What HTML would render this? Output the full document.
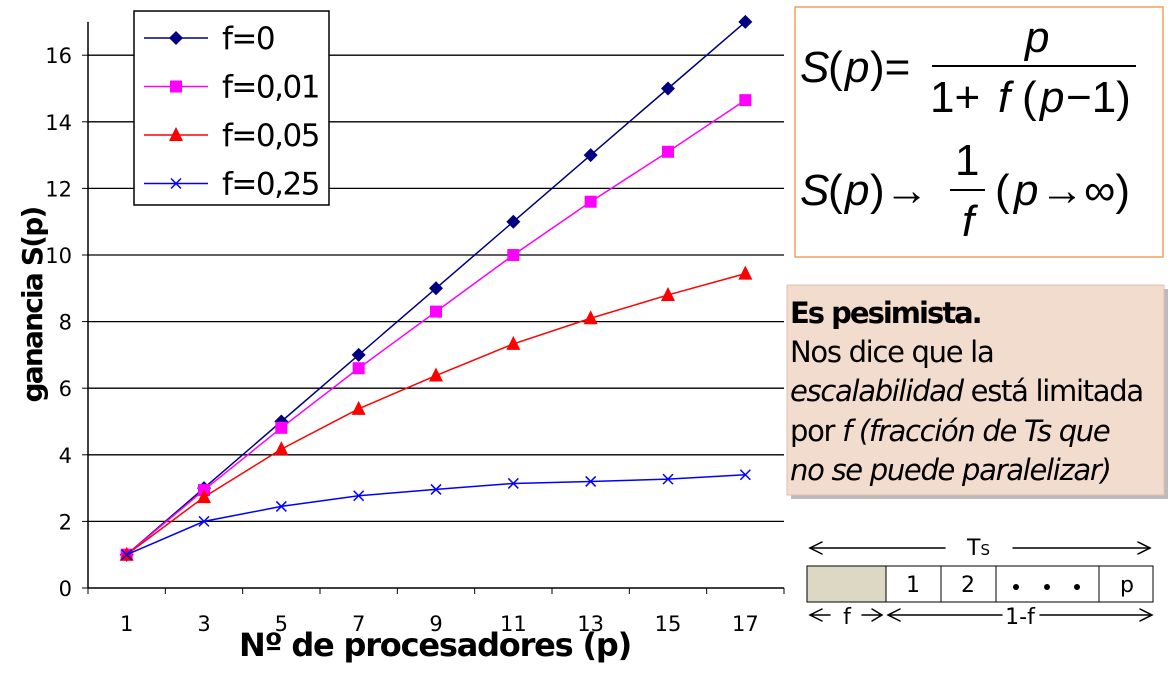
<!DOCTYPE html>
<html><head><meta charset="utf-8"><style>
body{margin:0;background:#fff;width:1171px;height:688px;overflow:hidden;font-family:"Liberation Sans","DejaVu Sans",sans-serif}
</style></head><body>
<svg id="chart" width="1171" height="688" xmlns="http://www.w3.org/2000/svg" font-family="DejaVu Sans, Liberation Sans, sans-serif">
<g id="grid"></g><g id="axes"></g><g id="series"></g>
<text transform="translate(42,305) rotate(-90)" text-anchor="middle" font-size="28" font-weight="bold" letter-spacing="-1.8">ganancia S(p)</text>
<text x="435" y="656" text-anchor="middle" font-size="32" font-weight="bold" letter-spacing="-1.2">Nº de procesadores (p)</text>
<g>
<rect x="134" y="11" width="195" height="194" fill="#fff" stroke="#000" stroke-width="1.5"/>
<g id="legend-items"></g>
</g>
<g font-family="Liberation Sans, sans-serif" font-style="italic">
<rect x="795" y="7" width="368" height="250" fill="#fff" stroke="#f0a060" stroke-width="1.5"/>
<text x="800" y="82" font-size="44">S</text><text x="828" y="82" font-size="44" font-style="normal">(</text><text x="845" y="82" font-size="44">p</text><text x="870" y="82" font-size="44" font-style="normal">)=</text>
<text x="1025" y="52" font-size="44">p</text>
<line x1="932" y1="66" x2="1136" y2="66" stroke="#000" stroke-width="2"/>
<text x="930" y="112" font-size="44" font-style="normal">1+</text><text x="998" y="112" font-size="44">f</text><text x="1022" y="112" font-size="44" font-style="normal">(</text><text x="1040" y="112" font-size="44">p</text><text x="1066" y="112" font-size="44" font-style="normal">−1)</text>
<text x="800" y="205" font-size="44">S</text><text x="828" y="205" font-size="44" font-style="normal">(</text><text x="845" y="205" font-size="44">p</text><text x="870" y="205" font-size="44" font-style="normal">)→</text>
<text x="955" y="175" font-size="44" font-style="normal">1</text>
<line x1="950" y1="190" x2="985" y2="190" stroke="#000" stroke-width="2"/>
<text x="962" y="236" font-size="44">f</text>
<text x="995" y="205" font-size="44" font-style="normal">(</text><text x="1014" y="205" font-size="44">p</text><text x="1040" y="205" font-size="44" font-style="normal">→∞)</text>
</g>
<g>
<rect x="791" y="289" width="377" height="210" fill="#bbb"/>
<rect x="787" y="285" width="377" height="210" fill="#f2dcce" stroke="#e0c0b0"/>
<text x="790" y="323" font-size="29" font-weight="bold" letter-spacing="-2">Es pesimista.</text>
<text x="790" y="362" font-size="29" letter-spacing="-1.3">Nos dice que la</text>
<text x="790" y="401" font-size="29" letter-spacing="-1.3"><tspan font-style="italic">escalabilidad</tspan> está limitada</text>
<text x="790" y="441" font-size="29" letter-spacing="-1.3">por <tspan font-style="italic">f (fracción de Ts que</tspan></text>
<text x="790" y="480" font-size="29" font-style="italic" letter-spacing="-1.3">no se puede paralelizar)</text>
</g>
<g font-size="22" stroke-linecap="round">
<line x1="810" y1="548" x2="945" y2="548" stroke="#000" stroke-width="1.5"/><path d="M822 542 L810 548 L822 554" fill="none" stroke="#000" stroke-width="1.5"/>
<line x1="1013" y1="548" x2="1150" y2="548" stroke="#000" stroke-width="1.5"/><path d="M1138 542 L1150 548 L1138 554" fill="none" stroke="#000" stroke-width="1.5"/>
<text x="967" y="555" font-size="22">T<tspan font-size="15">S</tspan></text>
<rect x="807" y="566" width="79" height="36" fill="#ddd8c4" stroke="#000"/>
<rect x="886" y="566" width="267" height="36" fill="#fff" stroke="#000"/>
<line x1="941" y1="566" x2="941" y2="602" stroke="#000"/><line x1="996" y1="566" x2="996" y2="602" stroke="#000"/><line x1="1099" y1="566" x2="1099" y2="602" stroke="#000"/>
<text x="913" y="592" text-anchor="middle">1</text><text x="968" y="592" text-anchor="middle">2</text>
<circle cx="1016" cy="587" r="3"/><circle cx="1047" cy="587" r="3"/><circle cx="1077" cy="587" r="3"/>
<text x="1127" y="592" text-anchor="middle">p</text>
<path d="M822 609 L810 615 L822 621 M810 615 L830 615" fill="none" stroke="#000" stroke-width="1.5"/>
<text x="847" y="624" text-anchor="middle">f</text>
<path d="M862 615 L882 615 M872 609 L882 615 L872 621" fill="none" stroke="#000" stroke-width="1.5"/>
<path d="M900 609 L888 615 L900 621 M888 615 L1002 615" fill="none" stroke="#000" stroke-width="1.5"/>
<text x="1020" y="624" text-anchor="middle">1-f</text>
<path d="M1040 615 L1152 615 M1140 609 L1152 615 L1140 621" fill="none" stroke="#000" stroke-width="1.5"/>
</g>
</svg>
<script>
const categories=[1,3,5,7,9,11,13,15,17];
const seriesNames=["f=0","f=0,01","f=0,05","f=0,25"];
const s0=[1,3,5,7,9,11,13,15,17];
const s1=[1,2.94,4.81,6.6,8.3,10.0,11.6,13.1,14.65];
const s2=[1,2.73,4.17,5.38,6.38,7.33,8.1,8.8,9.44];
const s3=[1,2,2.45,2.77,2.96,3.14,3.2,3.27,3.4];
const yTicks=[0,2,4,6,8,10,12,14,16];
const colors=["#000080","#ff00ff","#ff0000","#0000ff"];
const markers=["diamond","square","triangle","x"];
const NS="http://www.w3.org/2000/svg";
const X0=88,X1=784,Y0=588,YS=33.3,XS=(X1-X0)/18;
const xs=p=>X0+p*XS, ys=v=>Y0-v*YS;
function mk(t,a,parent){const e=document.createElementNS(NS,t);for(const k in a)e.setAttribute(k,a[k]);parent.appendChild(e);return e;}
const grid=document.getElementById('grid'),axes=document.getElementById('axes'),ser=document.getElementById('series');
yTicks.forEach(v=>{
 if(v>0){const l=mk('line',{x1:X0,x2:X1,y1:ys(v),y2:ys(v),stroke:'#000','stroke-width':1.3},grid);
 
 }
 const t=mk('text',{x:72,y:ys(v)+8,'text-anchor':'end','font-size':21},axes);t.textContent=v;
 
 
 mk('line',{x1:X0-6,x2:X0,y1:ys(v),y2:ys(v),stroke:'#000'},axes);
});
mk('line',{x1:X0,x2:X0,y1:ys(17),y2:Y0,stroke:'#000','stroke-width':1.5},axes);
mk('line',{x1:X0,x2:X1,y1:Y0,y2:Y0,stroke:'#000','stroke-width':1.5},axes);
for(let i=0;i<=9;i++){mk('line',{x1:X0+i*2*XS,x2:X0+i*2*XS,y1:Y0,y2:Y0+6,stroke:'#000'},axes);}
categories.forEach(c=>{const t=mk('text',{x:xs(c),y:Y0+43,'text-anchor':'middle','font-size':21},axes);t.textContent=c;
 
 });
function marker(type,x,y,col,parent){
 if(type==='diamond')return mk('path',{d:`M${x} ${y-7}L${x+7} ${y}L${x} ${y+7}L${x-7} ${y}Z`,fill:col},parent);
 if(type==='square')return mk('rect',{x:x-6,y:y-6,width:12,height:12,fill:col},parent);
 if(type==='triangle')return mk('path',{d:`M${x} ${y-8}L${x+7} ${y+6}L${x-7} ${y+6}Z`,fill:col},parent);
 return mk('path',{d:`M${x-5} ${y-5}L${x+5} ${y+5}M${x+5} ${y-5}L${x-5} ${y+5}`,stroke:col,'stroke-width':1.5,fill:'none'},parent);
}
const leg=document.getElementById('legend-items');
[s0,s1,s2,s3].forEach((s,i)=>{
 const g=mk('g',{},ser);
 
 
 mk('polyline',{points:s.map((v,j)=>xs(categories[j])+','+ys(v)).join(' '),fill:'none',stroke:colors[i],'stroke-width':1.5},g);
 s.forEach((v,j)=>{const m=marker(markers[i],xs(categories[j]),ys(v),colors[i],g);
  
  });
 const ly=38+i*48.5;
 const lg=mk('g',{},leg);
 
 
 mk('line',{x1:144,x2:208,y1:ly,y2:ly,stroke:colors[i],'stroke-width':1.5},lg);
 marker(markers[i],176,ly,colors[i],lg);
 const t=mk('text',{x:222,y:ly+11,'font-size':31,'letter-spacing':'-1.5'},lg);t.textContent=seriesNames[i];
});
</script>
</body></html>
